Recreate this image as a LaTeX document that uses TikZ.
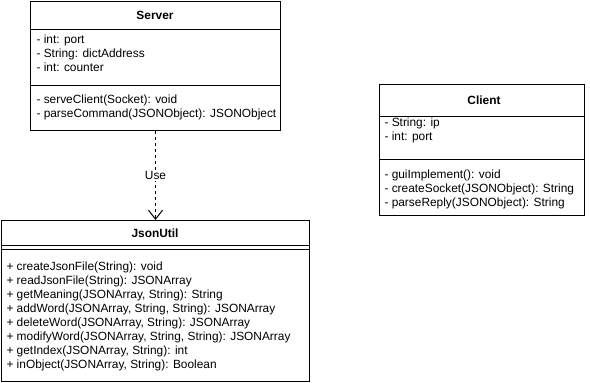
\documentclass[tikz,border=0pt]{standalone}
\usepackage{fontspec}
\setmainfont{Liberation Sans}
\usetikzlibrary{positioning,arrows.meta}

\begin{document}
\begin{tikzpicture}[
    x=1pt, y=-1pt,
    line width=1pt,
    every node/.style={font=\fontsize{11.9}{14}\selectfont},
    cls/.style={rectangle, draw=black, fill=white, anchor=north west,
                inner sep=0pt},
    ttl/.style={font=\fontsize{11.9}{14}\selectfont\bfseries},
    mem/.style={anchor=north west, inner sep=0pt, align=left},
    dep/.style={dashed, dash pattern=on 3pt off 3pt,
                -{Straight Barb[length=9pt, width=14pt, line width=1pt]}}
]
\useasboundingbox (0,0) rectangle (590,383);

% Server
\node[cls, minimum width=250pt, minimum height=129pt] (srv) at (30,1) {};
\draw (30,29) -- (280,29);
\draw (30,85) -- (280,85);
\node[ttl] (srvt) at (155,15) {Server};
\node[mem] (srva) at (36,34) {- int: port\\- String: dictAddress\\- int: counter};
\node[mem] (srvm) at (36,94) {- serveClient(Socket): void\\- parseCommand(JSONObject): JSONObject};

% Client
\node[cls, minimum width=205pt, minimum height=131pt] (cli) at (379,84) {};
\draw (379,116) -- (584,116);
\draw (379,159) -- (584,159);
\node[ttl] (clit) at (484,100) {Client};
\node[mem] (clia) at (384,117) {- String: ip\\- int: port};
\node[mem] (clim) at (384,169) {- guiImplement(): void\\- createSocket(JSONObject): String\\- parseReply(JSONObject): String};

% JsonUtil
\node[cls, minimum width=308pt, minimum height=161pt] (jsu) at (1,220) {};
\draw (1,245) -- (309,245);
\draw (1,249) -- (309,249);
\node[ttl] (jsut) at (155,233) {JsonUtil};
\node[mem] (jsum) at (6,261) {+ createJsonFile(String): void\\+ readJsonFile(String): JSONArray\\+ getMeaning(JSONArray, String): String\\+ addWord(JSONArray, String, String): JSONArray\\+ deleteWord(JSONArray, String): JSONArray\\+ modifyWord(JSONArray, String, String): JSONArray\\+ getIndex(JSONArray, String): int\\+ inObject(JSONArray, String): Boolean};

\draw[dep] (srv.south) -- node[fill=white, inner sep=1pt] {Use} (jsu.north);
\end{tikzpicture}
\end{document}
